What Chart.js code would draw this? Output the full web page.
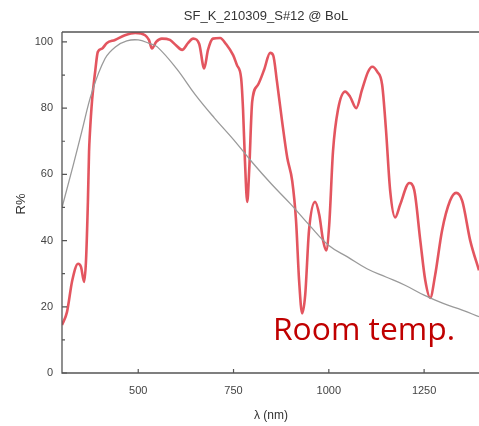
<!DOCTYPE html>
<html>
<head>
<meta charset="utf-8">
<script src="https://cdn.jsdelivr.net/npm/chart.js@4/dist/chart.umd.min.js"></script>
<style>
  html, body { margin: 0; padding: 0; background: #fff; overflow: hidden; }
  #wrap { width: 479px; height: 426px; }
</style>
</head>
<body>
<div id="wrap"><canvas id="chart" width="479" height="426"></canvas></div>
<script>
// measured spectrum (R%) vs wavelength (nm)
const redLambda = [300, 313, 327, 342, 350, 358, 363, 368, 371, 373, 379, 387, 394, 405, 418, 439, 465, 492, 518, 528, 536, 547, 562, 583, 599, 615, 631, 644, 660, 673, 683, 696, 715, 730, 749, 759, 770, 775, 780, 786, 791, 799, 814, 830, 846, 854, 864, 877, 891, 904, 914, 922, 930, 938, 948, 964, 975, 985, 993, 1001, 1011, 1024, 1043, 1056, 1072, 1087, 1103, 1114, 1127, 1140, 1150, 1161, 1174, 1187, 1211, 1224, 1240, 1253, 1266, 1279, 1297, 1318, 1334, 1350, 1371, 1394];
const redR = [14.5, 18.4, 28, 33, 32, 27.5, 34, 52, 67, 72, 82.5, 91, 97, 98, 99.7, 100.6, 102, 102.7, 102, 100.6, 98, 100, 101, 100.6, 99, 97.6, 99.7, 101, 99.4, 92, 97.6, 101, 101.2, 99.4, 96, 93, 89, 79.5, 64, 51.7, 61, 82, 87, 91.5, 96.7, 96, 88, 76.4, 65, 58, 46, 28, 18, 23.5, 43, 51.7, 47.7, 40, 37, 44.7, 67, 79.5, 85, 83.4, 80, 85.5, 91, 92.5, 91, 87, 73.4, 55, 47, 50.8, 57.4, 55.3, 40, 28, 22.7, 29.6, 43, 52, 54.4, 52, 40, 31];

// reference (gray) curve
const grayLambda = [300, 330, 352, 379, 413, 440, 470, 500, 530, 550, 600, 650, 700, 750, 800, 850, 900, 950, 1000, 1050, 1100, 1150, 1200, 1250, 1300, 1350, 1394];
const grayR = [50, 63, 73, 85, 95, 98.5, 100.3, 100.6, 99.5, 98.5, 92, 84, 77, 70.5, 63.5, 57, 51, 44.5, 38.5, 35, 31.5, 29, 26.5, 23.5, 21, 19, 17];

const xTicks = [500, 750, 1000, 1250];
const yTicks = [0, 20, 40, 60, 80, 100];
const yMinorTicks = [10, 30, 50, 70, 90];

const chartTitle = "SF_K_210309_S#12 @ BoL";
const xTitle = "λ (nm)";
const yTitle = "R%";
const note = "Room temp.";

const toPoints = (xs, ys) => xs.map((x, i) => ({ x: x, y: ys[i] }));

// axes box, inward ticks and texts
const decor = {
    id: "decor",
    afterDraw(c) {
        const ctx = c.ctx;
        const a = c.chartArea;
        const xs = c.scales.x, ys = c.scales.y;
        ctx.save();
        ctx.strokeStyle = "#555";
        ctx.lineWidth = 1.3;
        ctx.beginPath();
        ctx.moveTo(a.left, a.top);
        ctx.lineTo(a.right, a.top);
        ctx.moveTo(a.left, a.top);
        ctx.lineTo(a.left, a.bottom);
        ctx.lineTo(a.right, a.bottom);
        ctx.stroke();
        ctx.lineWidth = 1.2;
        ctx.beginPath();
        yTicks.forEach(v => {
            const py = ys.getPixelForValue(v);
            ctx.moveTo(a.left, py); ctx.lineTo(a.left + 5, py);
        });
        yMinorTicks.forEach(v => {
            const py = ys.getPixelForValue(v);
            ctx.moveTo(a.left, py); ctx.lineTo(a.left + 3, py);
        });
        xTicks.forEach(v => {
            const px = xs.getPixelForValue(v);
            ctx.moveTo(px, a.bottom); ctx.lineTo(px, a.bottom - 4);
        });
        ctx.stroke();

        ctx.fillStyle = "#333";
        ctx.textAlign = "center";
        ctx.textBaseline = "middle";
        ctx.font = "13px 'Liberation Sans', Arial, sans-serif";
        ctx.fillText(chartTitle, 266, 16);
        ctx.font = "12px 'Liberation Sans', Arial, sans-serif";
        ctx.fillText(xTitle, 271, 416);
        ctx.save();
        ctx.translate(21, 204);
        ctx.rotate(-Math.PI / 2);
        ctx.font = "13px 'Liberation Sans', Arial, sans-serif";
        ctx.fillText(yTitle, 0, 0);
        ctx.restore();

        ctx.fillStyle = "#c00000";
        ctx.textAlign = "left";
        ctx.textBaseline = "alphabetic";
        ctx.font = "31px 'Open Sans', 'Noto Sans', sans-serif";
        const w = ctx.measureText(note).width;
        const size = 31 * 182 / w;
        ctx.font = size.toFixed(1) + "px 'Open Sans', 'Noto Sans', sans-serif";
        ctx.fillText(note, 273, 340);
        ctx.restore();
    }
};

new Chart(document.getElementById("chart").getContext("2d"), {
    type: "line",
    data: {
        datasets: [
            {
                label: "reference",
                data: toPoints(grayLambda, grayR),
                borderColor: "#9a9a9a",
                borderWidth: 1.3,
                pointRadius: 0,
                tension: 0.4,
                fill: false
            },
            {
                label: "R",
                data: toPoints(redLambda, redR),
                borderColor: "rgba(224, 66, 78, 0.9)",
                borderWidth: 2.6,
                pointRadius: 0,
                cubicInterpolationMode: "monotone",
                fill: false
            }
        ]
    },
    options: {
        responsive: false,
        animation: false,
        layout: { padding: { top: 32, left: 0, right: 0, bottom: 0 } },
        plugins: { legend: { display: false }, tooltip: { enabled: false }, title: { display: false } },
        scales: {
            x: {
                type: "linear",
                min: 300,
                max: 1394,
                grid: { display: false, drawTicks: false },
                border: { display: false },
                afterBuildTicks: s => { s.ticks = xTicks.map(v => ({ value: v })); },
                afterFit: s => { s.height = 53; },
                ticks: {
                    padding: 11,
                    maxRotation: 0,
                    color: "#444",
                    callback: v => String(v),
                    font: { family: "'Liberation Sans', Arial, sans-serif", size: 11 }
                }
            },
            y: {
                min: 0,
                max: 103,
                grid: { display: false, drawTicks: false },
                border: { display: false },
                afterBuildTicks: s => { s.ticks = yTicks.map(v => ({ value: v })); },
                afterFit: s => { s.width = 62; },
                ticks: {
                    padding: 9,
                    color: "#444",
                    callback: v => String(v),
                    font: { family: "'Liberation Sans', Arial, sans-serif", size: 11 }
                }
            }
        }
    },
    plugins: [decor]
});
</script>
</body>
</html>
